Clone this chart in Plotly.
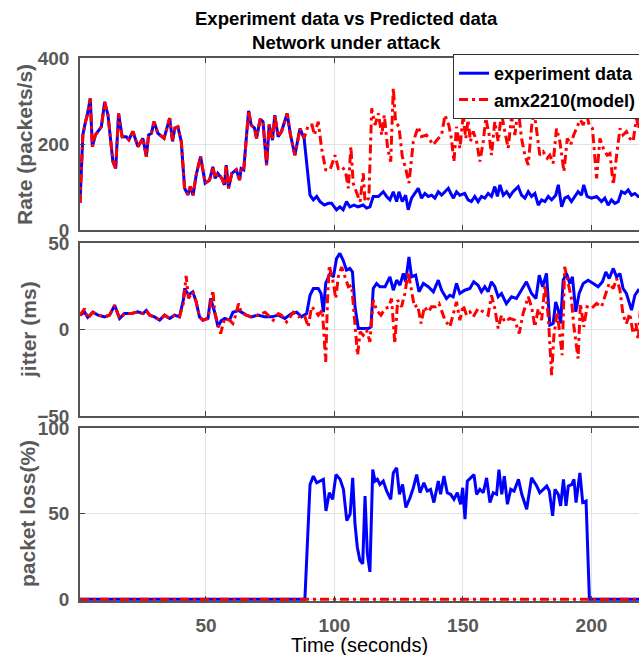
import plotly.graph_objects as go

# ---------------- data ----------------
# Rate: identical for experiment and model before the attack
t_rate_common = [1, 2.1, 3, 3.8, 5, 5.8, 7, 9.3, 10.6, 11.9, 13.8, 14.9, 16, 17.4, 19, 20, 21.6, 23.5,
                 25.5, 26.8, 27.7, 28.8, 29.8, 31.3, 33.7, 35.9, 37, 37.9, 39.1, 40.4, 41.7, 43, 43.9,
                 45, 46.2, 47.9, 49.7, 51.4, 52.7, 53.6, 54.6, 56.2, 57.2, 57.9, 58.8, 60.1, 61.8, 63.1,
                 63.7, 64.7, 65.7, 66.6, 67.6, 68.9, 69.7, 71.1, 72.2, 73.6, 74.6, 75.9, 76.8, 78.1,
                 79.4, 81.6, 82.9, 84.6, 86.6, 88.2]
rate_common = [63, 221, 248, 267, 306, 194, 221, 240, 298, 267, 159, 143, 271, 217, 217, 210, 229, 194,
               213, 171, 221, 225, 252, 225, 213, 260, 206, 237, 240, 206, 97, 82, 101,
               81, 128, 171, 109, 116, 147, 120, 132, 120, 105, 151, 97, 132, 140, 116,
               143, 140, 213, 277, 244, 237, 213, 258, 252, 151, 245, 209, 267, 217,
               229, 271, 221, 174, 236, 213]

t_rate_exp_attack = [90.5, 91.8, 93.1, 94.4, 96.1, 97.6, 98.9, 100.8, 102.1, 103.4, 104.7, 106, 107.6,
                     109.2, 111.2, 112.5, 113.8, 115.1, 117.1, 119, 120.3, 121.6, 122.9, 124.2, 125.1,
                     126.4, 127.7, 128.7, 130, 131.3, 132.6, 133.9, 135.2, 136.5, 137.8, 139.1, 140.4,
                     141.7, 143, 144.3, 145.2, 146.3, 147.5, 148.8, 150.7, 152, 153.3, 154.6, 155.9,
                     157.2, 158.5, 159.8, 161.1, 162.4, 163.4, 164.4, 165.7, 167, 168.2, 169.5, 171.5,
                     172.8, 174.1, 175.4, 176.7, 178, 179.3, 180.6, 181.9, 183.2, 184.5, 186.1, 187.1,
                     188.4, 189.6, 190.9, 192.2, 193.5, 194.8, 196.1, 197, 198.3, 200, 202, 203.9, 205.2,
                     206.5, 207.8, 209.1, 210.4, 211.7, 213, 214.3, 215.6, 216.9, 218.2, 219]
rate_exp_attack = [81, 70, 78, 66, 58, 62, 62, 47, 54, 47, 66, 54, 58,
                   54, 58, 51, 54, 78, 78, 89, 78, 70, 89, 66, 89,
                   66, 81, 47, 74, 85, 97, 74, 85, 78, 81, 74, 89,
                   81, 89, 97, 86, 74, 89, 81, 85, 70, 66, 78, 66,
                   78, 74, 85, 78, 101, 78, 105, 81, 89, 78, 89, 101,
                   81, 74, 89, 78, 85, 58, 70, 66, 78, 70, 81, 105,
                   54, 74, 78, 66, 78, 89, 81, 105, 78, 74, 78, 66, 74,
                   58, 70, 62, 66, 89, 85, 93, 81, 85, 78, 80]

t_rate_model_attack = [89.8, 91.3, 92.2, 93.7, 95, 96.6, 98.3, 100.2, 101.5, 103, 104.3, 105.4, 106.4,
                       107.3, 109, 110, 111.2, 111.9, 113.4, 114.5, 115.8, 117.1, 118.4, 119.4, 120.7,
                       121.9, 122.9, 123.8, 125.1, 126.4, 127.7, 129, 130.7, 132.6, 133.9, 135.8, 137.1,
                       138.4, 140.4, 141.7, 143, 144.5, 145.5, 146.5, 147.5, 148.8, 150.1, 151.1, 152,
                       152.9, 154, 155.3, 156.6, 157.9, 158.9, 160.2, 161.1, 162.4, 163.7, 165, 166.3,
                       167.6, 168.9, 170.2, 171.5, 172.8, 174.1, 175.4, 176.7, 177.6, 178.9, 179.9,
                       181.2, 182.8, 183.8, 185.1, 186.4, 187.7, 189.3, 190.6, 191.9, 193.1, 194.4,
                       195.7, 196.8, 198.1, 199.1, 200.4, 202, 203.3, 204.6, 206.1, 207.2, 208.5, 209.8,
                       211.1, 212.3, 213.6, 214.9, 216.2, 217.5, 218.4, 219]
rate_model_attack = [244, 244, 221, 252, 190, 140, 140, 174, 143, 147, 136, 97, 194,
                     109, 81, 66, 132, 66, 74, 283, 244, 271, 221, 267, 190,
                     159, 330, 252, 240, 171, 143, 109, 206, 240, 217, 221, 210,
                     198, 213, 221, 267, 244, 213, 159, 240, 190, 267, 213, 256,
                     206, 229, 206, 159, 206, 260, 221, 174, 252, 206, 271, 229,
                     190, 263, 221, 283, 213, 174, 151, 240, 279, 221, 174,
                     182, 167, 174, 155, 236, 206, 136, 213, 198, 221, 240,
                     256, 244, 271, 244, 236, 120, 213, 190, 174, 178, 105, 174,
                     236, 221, 229, 213, 206, 260, 236, 290]

# Jitter (ms)
t_jit_exp = [1, 2.8, 4, 6, 8, 10.6, 12.5, 14.5, 16.4, 18.3, 21, 23.5, 25.5, 26.8, 28.1, 30, 32, 33.9,
             35.9, 37.8, 39.7, 41.2, 41.7, 43.2, 44.9, 46.2, 47.5, 48.8, 50.8, 51.8, 53.4, 54.7, 55.9,
             57.3, 59.2, 60.5, 62.7, 63.7, 65.7, 67.6, 70.2, 72.8, 75.6, 78.2, 80.7, 83.3, 85.3, 87.2,
             89.2, 90.5, 91.8, 93.7, 94.8, 95.7, 96.6, 98.3, 99.6, 100.8, 102.1, 103.4, 104.7, 106,
             107, 108, 109.3, 111.2, 113.2, 114.2, 115.1, 116.4, 117.7, 119.7, 121.6, 122.9, 124.2,
             125.5, 126.8, 127.7, 129, 130, 131.6, 132.9, 134.6, 136.5, 138.5, 140.4, 141.7, 143.6,
             144.9, 146.2, 147.5, 148.8, 150.7, 152.7, 154.2, 155.9, 157.2, 158.5, 159.8, 161.1,
             162.4, 163.7, 165, 166.9, 168.9, 170.8, 172.8, 174.7, 176.7, 178.4, 179.7, 181, 182.5,
             183.8, 185.1, 186.1, 187.1, 188, 189, 190.3, 191.6, 192.6, 193.9, 195.2, 196.8, 198.7,
             200.7, 202.6, 204.3, 205.6, 206.9, 208.5, 209.8, 211.1, 212.3, 213.6, 215.6, 216.9,
             218.2, 219]
jit_exp = [8.3, 10, 7, 10, 8.3, 7.3, 8.3, 14, 6.4, 9.2, 9.2, 10.2, 9.2, 11, 8.3, 7.3, 5.4, 8.3,
           6.4, 8.3, 7.3, 17, 23.7, 20, 21.8, 16, 7.3, 5.4, 6.4, 18, 10, 1.5, 5,
           6.4, 5.4, 10, 11, 10, 8.3, 7.3, 8.3, 7.3, 7.3, 8.3, 6.4, 9.2, 10, 7.3,
           9.2, 19.8, 23.7, 23.7, 20.8, 10, 26.6, 32.4, 30.4, 41, 44, 40, 34.3, 35.3,
           33.3, 13.1, 0.6, 0.6, 0.6, 1.5, 23.7, 26.6, 24.7, 24.7, 30.4, 22.7, 28.5,
           25.6, 32.4, 27.6, 42, 30.4, 31.4, 21.8, 26.6, 24.7, 21.8, 28.5, 22.7, 17.9,
           19.8, 18.9, 26.6, 20.8, 22.7, 23.7, 27.6, 25.6, 21.8, 24.7, 21.8, 27.6,
           24.7, 18.9, 20.8, 15, 18.9, 17.9, 22.7, 27.6, 20.8, 17.9, 31.4, 24.7, 32.4,
           2.5, 3.5, 16, 11.2, 3.5, 28.5, 32.4, 26.6, 30.4, 10.2, 20.8, 26.6, 28.5,
           26.6, 24.7, 27.6, 33.3, 29.5, 35.3, 30.4, 32.4, 23.7, 20.8, 11.2, 19.8,
           22.7, 22]

t_jit_model = [1, 2.8, 4, 6, 8, 10.6, 12.5, 14.5, 16.4, 18.3, 21, 23.5, 25.5, 26.8, 28.1, 30, 32, 33.9,
               35.9, 37.8, 39.7, 41.2, 42.3, 43.2, 44.9, 46.2, 47.5, 48.8, 50.8, 52.7, 53.4, 54.7,
               55.7, 57.3, 59.2, 60.5, 61.5, 62.7, 63.7, 65.7, 67.6, 70.2, 73, 76.2, 78.2, 79.4,
               81.4, 84, 86, 88.3, 89.8, 91.1, 92.4, 93.7, 95.3, 96.6, 97.3, 98, 99.6, 100.5, 101.5,
               102.8, 104.1, 105.4, 106.7, 108, 109, 110, 111.2, 112.5, 113.8, 115.1, 116.4, 118.1,
               119.7, 121.2, 122.2, 123.5, 124.6, 126.1, 127.4, 128.7, 130, 131.1, 132.4, 133.7,
               135, 136.5, 137.8, 139.4, 140.7, 142, 143, 144.9, 146.2, 147.5, 148.8, 150.1,
               151.4, 152.7, 154, 155.9, 157.9, 159.8, 161.1, 162.4, 163.7, 165, 166.3, 168.2,
               170.2, 171.9, 173.4, 175.4, 176.7, 178, 179.3, 180.6, 181.9, 183.2, 184.5, 185.4,
               186.7, 187.7, 188.6, 189.6, 190.9, 192.2, 193.1, 194.8, 195.7, 197, 198.3, 200,
               202, 203.9, 205.6, 206.9, 208.5, 209.8, 211.1, 212.3, 213.6, 214.9, 216.2, 217.3,
               218.2, 219]
jit_model = [8.3, 12, 6.4, 10, 8.3, 7.3, 8.3, 14, 6.4, 9.2, 9.2, 10.2, 9.2, 11, 8.3, 7.3, 5.4, 8.3,
             6.4, 8.3, 7.3, 15, 31, 18, 21.8, 16, 7.3, 5.4, 6.4, 22.7, 10, 3.5,
             -2.3, 6.4, 5.4, 3.5, 8, 15, 10, 8.3, 7.3, 8.3, 10, 5.4, 9.2, 8.3,
             4.4, 10, 7.3, 8.3, 1.5, 13.1, 11.2, 8.3, 11.2, -18.7, 17, 37.2, 26.6, 17.9, 30.4,
             36.2, 30.4, 24.7, 25.6, 1.5, -14.8, -1.3, -3.3, -0.4, -7.1, 17, 11.2, 8.3,
             12.1, 13.1, 17.9, -8.1, 17, 13.1, 20.8, 33.3, 22.7, 13.1, 14, 3.5,
             13.1, 10.2, 13.1, 13.1, 15, 10.2, 5.4, 1.5, 8.3, 16, 5.4, 14,
             8.3, 10.2, 7.3, 12.1, 10.2, 8.3, 19.8, 12.1, 0.6, 8.3, 4.4, 6.4,
             5.4, -2.3, 9.2, 18.9, 13.1, 1.5, 12.1, 5.4, 25.6, 7.3, -26.4, -3.3,
             10.2, -2.3, -14.8, 36.2, 26.6, 17.9, 2.5, -16.8, 15, 1.5, 13.1, 12.1,
             15, 13.1, 20.8, 26.6, 23.7, 29.5, 22.7, 8.3, 3.5, 9.2, -2.3, 3.5,
             -6.2, 11]

# Packet loss (%)
t_loss_exp = [1, 88.5, 90.5, 91.8, 93.1, 94.4, 95.7, 96.7, 98, 99.3, 100.6, 102.2, 103.5, 104.8, 106.1,
              107.1, 108, 108.9, 109.9, 111, 111.9, 112.8, 113.8, 114.9, 115.8, 116.7, 117.7, 119,
              120.3, 121.9, 122.9, 124.2, 125.3, 126.5, 127.8, 129.4, 130.7, 132, 133.3, 134.8,
              136.1, 137.4, 138.7, 140.4, 141.3, 142.6, 143.9, 145.2, 146.5, 147.8, 149.1, 149.9,
              150.8, 151.7, 153, 154.3, 155.3, 156.6, 157.9, 159.2, 160.5, 161.8, 163.1, 164,
              165.1, 166.1, 167.3, 168.6, 169.9, 171.6, 172.9, 174.8, 176.7, 178.7, 179.9, 181.3,
              182.6, 183.6, 184.9, 185.8, 187.1, 188, 189.1, 190.1, 191, 192.3, 193.2, 194, 195.5,
              196.6, 197.9, 199.2, 219]
loss_exp = [0, 0, 67, 71.9, 68, 69, 70, 51.6, 62.2, 58.4, 72.8, 70, 64.2, 45.9, 49.7,
            70.9, 43.9, 30.4, 22.7, 20.8, 60.3, 26.6, 16, 75.7, 69, 70, 67, 69,
            63.2, 58.4, 73.8, 76.7, 61.3, 67, 53.6, 59.3, 65.1, 72.8, 62.2, 68,
            63.2, 64.2, 56.5, 69, 61.3, 71.9, 62.2, 61.3, 58.4, 62.2, 55.5, 65.1,
            46.8, 69, 70.9, 72.8, 61.3, 64.2, 62.2, 70.9, 56.5, 62.2, 61.3, 75.7,
            61.3, 71.9, 55.5, 64.2, 63.2, 70, 61.3, 52.6, 70.9, 66.1, 62.2, 64.2,
            66.1, 63.2, 48.7, 64.2, 61.3, 54.5, 70, 54.5, 66.1, 67, 70, 56.5, 73.8,
            56.5, 57.4, 0, 0]
t_loss_model = [1, 219]
loss_model = [0, 0]

# ---------------- figure ----------------
W, H = 639, 655
BLUE, RED = "#0000FF", "#FF0000"
GRAY = "#595959"
FONT = "Liberation Sans"
RED_DASH = "9px,4px,3px,4px"

t_rate_exp = t_rate_common + t_rate_exp_attack
rate_exp = rate_common + rate_exp_attack
t_rate_model = t_rate_common + t_rate_model_attack
rate_model = rate_common + rate_model_attack

fig = go.Figure()
fig.add_trace(go.Scatter(x=t_rate_exp, y=rate_exp, mode="lines", name="experiment data",
                         line=dict(color=BLUE, width=3), xaxis="x", yaxis="y"))
fig.add_trace(go.Scatter(x=t_rate_model, y=rate_model, mode="lines", name="amx2210(model)",
                         line=dict(color=RED, width=3, dash=RED_DASH), xaxis="x", yaxis="y"))
fig.add_trace(go.Scatter(x=t_jit_exp, y=jit_exp, mode="lines", showlegend=False,
                         line=dict(color=BLUE, width=3), xaxis="x2", yaxis="y2"))
fig.add_trace(go.Scatter(x=t_jit_model, y=jit_model, mode="lines", showlegend=False,
                         line=dict(color=RED, width=3, dash=RED_DASH), xaxis="x2", yaxis="y2"))
fig.add_trace(go.Scatter(x=t_loss_exp, y=loss_exp, mode="lines", showlegend=False,
                         line=dict(color=BLUE, width=3), xaxis="x3", yaxis="y3"))
fig.add_trace(go.Scatter(x=t_loss_model, y=loss_model, mode="lines", showlegend=False,
                         line=dict(color=RED, width=3, dash=RED_DASH), xaxis="x3", yaxis="y3"))

xdom = [80 / W, 1.0]


def ydom(top_px, bot_px):
    return [1 - bot_px / H, 1 - top_px / H]


tickfont = dict(family=FONT, size=19, color=GRAY, weight="bold")
common_x = dict(domain=xdom, range=[1, 218.5], showgrid=True, gridcolor="#e2e2e2", gridwidth=1,
                tickvals=[50, 100, 150, 200], showline=True, linecolor="#555555", linewidth=1.5,
                mirror="ticks", ticks="inside", ticklen=5, tickcolor="#444444", zeroline=False,
                tickfont=tickfont, ticklabelstandoff=6, automargin=False)
common_y = dict(showgrid=True, gridcolor="#e2e2e2", gridwidth=1, showline=True, linecolor="#555555",
                linewidth=1.5, ticks="inside", ticklen=5, tickcolor="#444444", zeroline=False,
                tickfont=tickfont, ticklabelstandoff=5, automargin=False)

fig.update_layout(
    width=W, height=H, margin=dict(l=0, r=0, t=0, b=0, autoexpand=False),
    paper_bgcolor="white", plot_bgcolor="white",
    xaxis=dict(common_x, anchor="y", showticklabels=False),
    xaxis2=dict(common_x, anchor="y2", showticklabels=False, matches="x"),
    xaxis3=dict(common_x, anchor="y3", matches="x"),
    yaxis=dict(common_y, domain=ydom(58, 230), range=[0, 400], tickvals=[0, 200, 400], anchor="x"),
    yaxis2=dict(common_y, domain=ydom(243, 416), range=[-50, 50], tickvals=[-50, 0, 50], anchor="x2"),
    yaxis3=dict(common_y, domain=ydom(428, 601), range=[-1, 100], tickvals=[0, 50, 100], anchor="x3"),
    legend=dict(x=453 / W, y=1 - 54 / H, xanchor="left", yanchor="top",
                font=dict(family=FONT, size=18, color="black", weight="bold"),
                bgcolor="white", bordercolor="#333333", borderwidth=1, tracegroupgap=0,
                itemwidth=30),
    showlegend=True,
)

ann = [
    dict(text="<b>Experiment data vs Predicted data</b><br><b>Network under attack</b>",
         x=346 / W, y=1 - 6 / H, xref="paper", yref="paper", xanchor="center", yanchor="top",
         showarrow=False, font=dict(family=FONT, size=18.5, color="black")),
    dict(text="<b>Rate (packets/s)</b>", x=24 / W, y=1 - 145 / H, textangle=-90),
    dict(text="<b>jitter (ms)</b>", x=29 / W, y=1 - 330 / H, textangle=-90),
    dict(text="<b>packet loss(%)</b>", x=27 / W, y=1 - 514 / H, textangle=-90),
    dict(text="Time (seconds)", x=359 / W, y=1 - 645 / H, font=dict(family=FONT, size=20, color="black")),
]
for a in ann:
    a.setdefault("xref", "paper")
    a.setdefault("yref", "paper")
    a.setdefault("xanchor", "center")
    a.setdefault("yanchor", "middle")
    a.setdefault("showarrow", False)
    a.setdefault("font", dict(family=FONT, size=21, color=GRAY))
    fig.add_annotation(**a)

fig.write_html("out.html")
